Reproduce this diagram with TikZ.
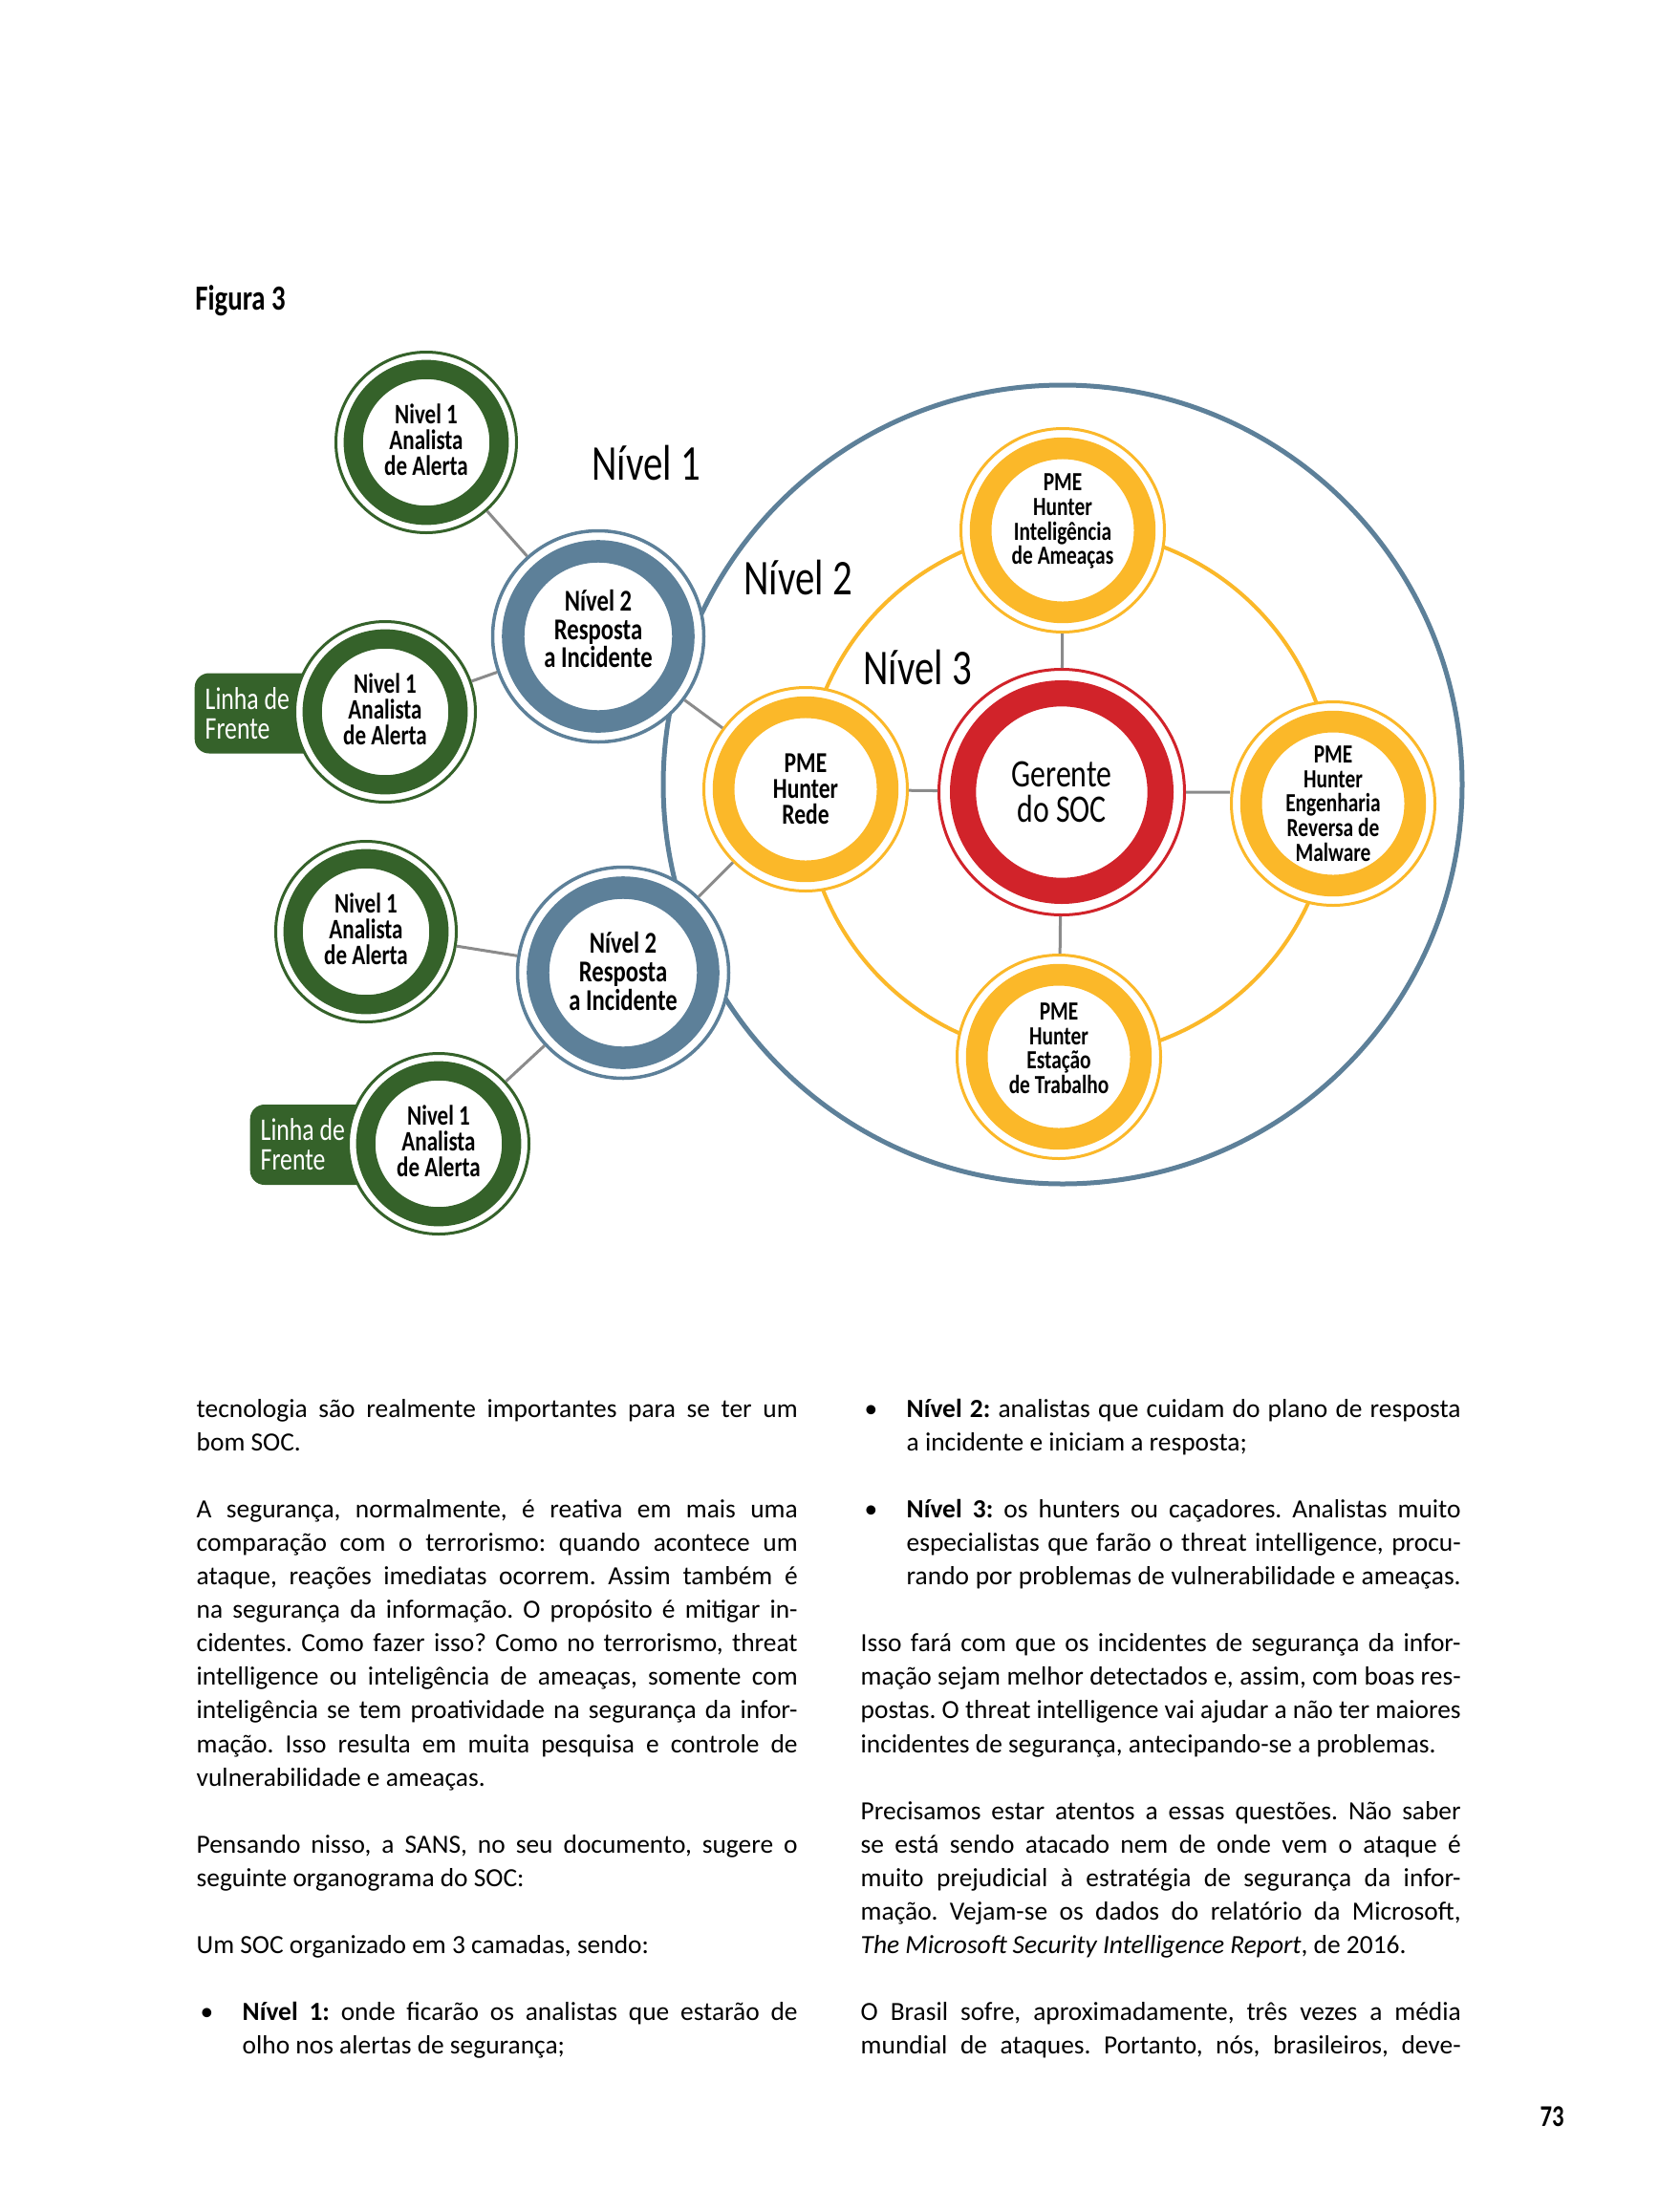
\documentclass[tikz,border=0pt]{standalone}
\usepackage{fontspec}
\setmainfont{Carlito}
\newfontfamily\diagfont[FakeStretch=0.78]{Carlito}
\usepackage{tikz}
\definecolor{TierGreen}{HTML}{35622A}
\definecolor{TierBlue}{HTML}{5D8099}
\definecolor{TierGold}{HTML}{FBB829}
\definecolor{TierRed}{HTML}{D1232A}
\definecolor{LinkGrey}{HTML}{8B8B8B}
\frenchspacing

\begin{document}
\begin{tikzpicture}[x=1cm,y=-1cm,
  ring/.style n args={2}{circle, draw=#1, fill=white, line width=0.03cm,
    inner sep=0pt, minimum size={2*#2cm-0.03cm}, align=flush center,
    path picture={\draw[#1, line width={0.21*#2cm}]
      (path picture bounding box.center) circle[radius={0.795*#2cm}];}},
  analyst/.style={ring={TierGreen}{0.96}, text depth=1.7pt,
    font=\diagfont\bfseries\fontsize{8.4}{7.6}\selectfont},
  responder/.style={ring={TierBlue}{1.12}, line width=0.035cm,
    font=\diagfont\bfseries\fontsize{9}{8.45}\selectfont},
  hunter/.style={ring={TierGold}{1.08},
    font=\diagfont\bfseries\fontsize{7.8}{7.3}\selectfont},
  manager/.style={ring={TierRed}{1.30},
    font=\diagfont\fontsize{11.6}{10.5}\selectfont},
  tier/.style={font=\diagfont\fontsize{14.9}{16}\selectfont},
  frente/.style={anchor=west, fill=TierGreen, rounded corners=0.15cm,
    text=white, text width=1.55cm, align=flush left, inner xsep=0.11cm,
    minimum height=0.84cm, font=\diagfont\fontsize{9.4}{8.8}\selectfont},
  link/.style={LinkGrey, line width=0.03cm},
  body/.style={anchor=base west, inner sep=0pt,
    font=\fontsize{7.8}{9.4}\selectfont}]
  \fill[white] (0,0) rectangle (17.36,23.15);
  \useasboundingbox (0,0) rectangle (17.36,23.15);

  \node[anchor=west, font=\diagfont\bfseries\fontsize{10.5}{12}\selectfont]
    (fig) at (1.92,3.15) {Figura 3};

  % outer tiers
  \draw[TierBlue, line width=0.05cm] (11.12,8.21) circle[radius=4.18];
  \draw[TierGold, line width=0.04cm] (11.18,8.30) circle[radius=2.76];

  % front line
  \node[frente] (lf1) at (2.03,7.465) {Linha de\\Frente};
  \node[frente] (lf2) at (2.61,11.98) {Linha de\\Frente};

  \node[analyst] (g1) at (4.46,4.63) {Nivel 1\\Analista\\de Alerta};
  \node[analyst] (g2) at (4.03,7.45) {Nivel 1\\Analista\\de Alerta};
  \node[analyst] (g3) at (3.83,9.75) {Nivel 1\\Analista\\de Alerta};
  \node[analyst] (g4) at (4.59,11.97) {Nivel 1\\Analista\\de Alerta};

  \node[responder, text depth=4.6pt] (b1) at (6.26,6.66) {Nível 2\\Resposta\\a Incidente};
  \node[responder, text depth=1pt] (b2) at (6.52,10.18) {Nível 2\\Resposta\\a Incidente};

  \node[manager] (soc) at (11.11,8.29) {Gerente\\do SOC};
  \node[hunter, text depth=6.5pt] (pt) at (11.12,5.55)
    {PME\\Hunter\\Inteligência\\de Ameaças};
  \node[hunter, font=\diagfont\bfseries\fontsize{8.6}{7.7}\selectfont]
    (pl) at (8.43,8.26) {PME\\Hunter\\Rede};
  \node[hunter] (pr) at (13.95,8.41) {PME\\Hunter\\Engenharia\\Reversa de\\Malware};
  \node[hunter, text depth=5pt] (pb) at (11.08,11.06)
    {PME\\Hunter\\Estação\\de Trabalho};

  \node[tier] (t1) at (6.76,4.84) {Nível 1};
  \node[tier] (t2) at (8.35,6.04) {Nível 2};
  \node[tier] (t3) at (9.60,6.98) {Nível 3};

  \draw[link] (g1)--(b1) (g2)--(b1) (b1)--(pl) (g3)--(b2) (g4)--(b2) (b2)--(pl)
    (soc)--(pt) (soc)--(pl) (soc)--(pb) (soc.east)--(soc.east -| pr.west);

  % left column
  \foreach \r/\t in {
    0/{tecnologia são realmente importantes para se ter um},
    3/{A segurança, normalmente, é reativa em mais uma},
    4/{comparação com o terrorismo: quando acontece um},
    5/{ataque, reações imediatas ocorrem. Assim também é},
    6/{na segurança da informação. O propósito é mitigar in-},
    7/{cidentes. Como fazer isso? Como no terrorismo, threat},
    8/{intelligence ou inteligência de ameaças, somente com},
    9/{inteligência se tem proatividade na segurança da infor-},
    10/{mação. Isso resulta em muita pesquisa e controle de},
    13/{Pensando nisso, a SANS, no seu documento, sugere o}}
    \node[body] (L\r) at (2.05,{14.83+0.351*\r}) {\makebox[6.29cm][s]{\t}};
  \foreach \r/\t in {1/{bom SOC.}, 11/{vulnerabilidade e ameaças.},
    14/{seguinte organograma do SOC:}, 16/{Um SOC organizado em 3 camadas, sendo:}}
    \node[body] (L\r) at (2.05,{14.83+0.351*\r}) {\t};
  \node[body] (dotL) at (2.09,{14.83+0.351*18}) {\textbullet};
  \node[body] (L18) at (2.53,{14.83+0.351*18})
    {\makebox[5.81cm][s]{\textbf{Nível 1:} onde ficarão os analistas que estarão de}};
  \node[body] (L19) at (2.53,{14.83+0.351*19}) {olho nos alertas de segurança;};

  % right column
  \node[body] (dotR1) at (9.04,14.83) {\textbullet};
  \node[body] (R0) at (9.48,14.83)
    {\makebox[5.80cm][s]{\textbf{Nível 2:} analistas que cuidam do plano de resposta}};
  \node[body] (R1) at (9.48,{14.83+0.351}) {a incidente e iniciam a resposta;};
  \node[body] (dotR2) at (9.04,{14.83+0.351*3}) {\textbullet};
  \node[body] (R3) at (9.48,{14.83+0.351*3})
    {\makebox[5.80cm][s]{\textbf{Nível 3:} os hunters ou caçadores. Analistas muito}};
  \node[body] (R4) at (9.48,{14.83+0.351*4})
    {\makebox[5.80cm][s]{especialistas que farão o threat intelligence, procu-}};
  \node[body] (R5) at (9.48,{14.83+0.351*5})
    {\makebox[5.80cm][s]{rando por problemas de vulnerabilidade e ameaças.}};
  \foreach \r/\t in {
    7/{Isso fará com que os incidentes de segurança da infor-},
    8/{mação sejam melhor detectados e, assim, com boas res-},
    9/{postas. O threat intelligence vai ajudar a não ter maiores},
    12/{Precisamos estar atentos a essas questões. Não saber},
    13/{se está sendo atacado nem de onde vem o ataque é},
    14/{muito prejudicial à estratégia de segurança da infor-},
    15/{mação. Vejam-se os dados do relatório da Microsoft,},
    18/{O Brasil sofre, aproximadamente, três vezes a média},
    19/{mundial de ataques. Portanto, nós, brasileiros, deve-}}
    \node[body] (R\r) at (9.00,{14.83+0.351*\r}) {\makebox[6.28cm][s]{\t}};
  \node[body] (R10) at (9.00,{14.83+0.351*10})
    {incidentes de segurança, antecipando-se a problemas.};
  \node[body] (R16) at (9.00,{14.83+0.351*16})
    {\textit{The Microsoft Security Intelligence Report}, de 2016.};

  \node[font=\diagfont\bfseries\fontsize{9}{10}\selectfont] (page) at (16.24,22.15) {73};
\end{tikzpicture}
\end{document}
